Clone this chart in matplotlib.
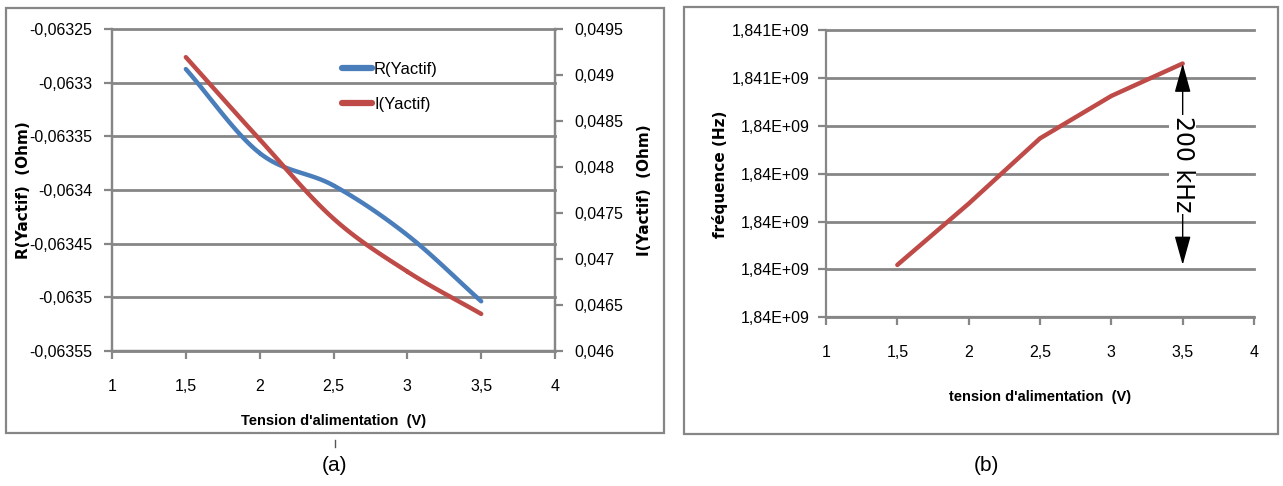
import numpy as np
import matplotlib.pyplot as plt
from matplotlib.patches import Rectangle
from matplotlib.lines import Line2D
from matplotlib.ticker import FuncFormatter

# data
tension = [1.5, 2.0, 2.5, 3.0, 3.5]
r_yactif = [-0.0632873, -0.0633656, -0.0633958, -0.063442, -0.0635037]
i_yactif = [0.049194, 0.0483, 0.047439, 0.046863, 0.046403]
frequence = [1.8403047e9, 1.8403688e9, 1.8404371e9, 1.8404815e9, 1.8405154e9]

x_ticks = [1, 1.5, 2, 2.5, 3, 3.5, 4]
r_ticks = np.linspace(-0.06355, -0.06325, 7)
i_ticks = np.linspace(0.046, 0.0495, 8)
f_ticks = np.linspace(1.84025e9, 1.84055e9, 7)

BLUE = '#4A7EBB'
RED = '#BE4B48'
GRAY = '#868686'
SANS = 'Liberation Sans'


def smooth(x, y, n=30):
    # Catmull-Rom curve through the points (like Excel "smoothed line")
    x = np.asarray(x, float)
    y = np.asarray(y, float)
    px = np.concatenate([[2 * x[0] - x[1]], x, [2 * x[-1] - x[-2]]])
    py = np.concatenate([[2 * y[0] - y[1]], y, [2 * y[-1] - y[-2]]])
    xs, ys = [], []
    t = np.linspace(0, 1, n)
    for i in range(1, len(px) - 2):
        for p, out in ((px, xs), (py, ys)):
            p0, p1, p2, p3 = p[i - 1], p[i], p[i + 1], p[i + 2]
            out.extend(0.5 * (2 * p1 + (-p0 + p2) * t
                              + (2 * p0 - 5 * p1 + 4 * p2 - p3) * t ** 2
                              + (-p0 + 3 * p1 - 3 * p2 + p3) * t ** 3))
    return xs, ys


def comma(fmt):
    return FuncFormatter(lambda v, pos: (fmt % v).rstrip('0').rstrip('.').replace('.', ','))


def freq_fmt(v, pos):
    m = int(v / 1e6 + 0.5) / 1e3
    return ('%.3f' % m).rstrip('0').rstrip('.').replace('.', ',') + 'E+09'


def style(ax):
    for s in ax.spines.values():
        s.set_color(GRAY)
        s.set_linewidth(1.6)
    ax.tick_params(colors=GRAY, width=1.6, length=6, labelcolor='black', labelsize=11.5)
    for lab in ax.get_xticklabels() + ax.get_yticklabels():
        lab.set_family(SANS)


fig = plt.figure(figsize=(12.83, 4.86), dpi=100)

# frames around each chart
fig.add_artist(Rectangle((0.0047, 0.109), 0.5129, 0.8745, transform=fig.transFigure,
                         fill=False, edgecolor=GRAY, lw=1.6))
fig.add_artist(Rectangle((0.5331, 0.107), 0.463, 0.8786, transform=fig.transFigure,
                         fill=False, edgecolor=GRAY, lw=1.6))

# (a)
ax = fig.add_axes([0.0873, 0.2778, 0.3453, 0.6625])
ax2 = ax.twinx()
xs, ys = smooth(tension, r_yactif)
ax.plot(xs, ys, color=BLUE, lw=3.2, solid_capstyle='round')
xs, ys = smooth(tension, i_yactif)
ax2.plot(xs, ys, color=RED, lw=3.2, solid_capstyle='round')

ax.set_xlim(1, 4)
ax.set_xticks(x_ticks)
ax.xaxis.set_major_formatter(comma('%.1f'))
ax.set_ylim(r_ticks[0], r_ticks[-1])
ax.set_yticks(r_ticks)
ax.yaxis.set_major_formatter(comma('%.5f'))
ax2.set_ylim(i_ticks[0], i_ticks[-1])
ax2.set_yticks(i_ticks)
ax2.yaxis.set_major_formatter(comma('%.4f'))
ax.grid(axis='y', color=GRAY, lw=2)
for g in ax.get_ygridlines():
    g.set_clip_on(False)
ax.tick_params(axis='x', pad=14)
ax.tick_params(axis='y', pad=8)
ax2.tick_params(axis='y', pad=8)
style(ax)
style(ax2)
ax.spines['top'].set_visible(False)
ax2.spines['top'].set_visible(False)

ax.set_xlabel("Tension d'alimentation  (V)", family=SANS, fontweight='bold',
              fontsize=10.5)
ax.xaxis.set_label_coords(0.5, -0.197)
ax.set_ylabel('R(Yactif)  (Ohm)', fontweight='bold', fontsize=11)
ax.yaxis.set_label_coords(-0.183, 0.5)
ax2.set_ylabel('I(Yactif)  (Ohm)', fontweight='bold', fontsize=11, rotation=90)
ax2.yaxis.set_label_coords(1.185, 0.5)

handles = [Line2D([], [], color=BLUE, lw=4.5, solid_capstyle='round'),
           Line2D([], [], color=RED, lw=4.5, solid_capstyle='round')]
ax2.legend(handles, ['R(Yactif)', 'I(Yactif)'], loc='upper left',
           bbox_to_anchor=(0.505, 0.918), frameon=False, handlelength=1.75,
           handletextpad=0.15, labelspacing=1.2, borderaxespad=0,
           prop={'family': SANS, 'size': 12})

# (b)
bx = fig.add_axes([0.6438, 0.3473, 0.3336, 0.59])
bx.plot(tension, frequence, color=RED, lw=3.2, solid_capstyle='round')
bx.set_xlim(1, 4)
bx.set_xticks(x_ticks)
bx.xaxis.set_major_formatter(comma('%.1f'))
bx.set_ylim(f_ticks[0], f_ticks[-1])
bx.set_yticks(f_ticks)
bx.yaxis.set_major_formatter(FuncFormatter(freq_fmt))
bx.grid(axis='y', color=GRAY, lw=2)
for g in bx.get_ygridlines():
    g.set_clip_on(False)
bx.tick_params(axis='x', pad=14)
bx.tick_params(axis='y', pad=6)
style(bx)
bx.spines['top'].set_visible(False)
bx.spines['right'].set_visible(False)
bx.set_xlabel("tension d'alimentation  (V)", family=SANS, fontweight='bold',
              fontsize=10.5)
bx.xaxis.set_label_coords(0.5, -0.255)
bx.set_ylabel('fréquence (Hz)', fontweight='bold', fontsize=11)
bx.yaxis.set_label_coords(-0.228, 0.5)

bx.annotate('', xy=(tension[-1], frequence[-1]), xytext=(tension[-1], frequence[0]),
            arrowprops=dict(arrowstyle='<|-|>,head_length=0.9,head_width=0.25',
                            color='black', lw=1, mutation_scale=20,
                            shrinkA=0, shrinkB=0))
bx.text(tension[-1], (frequence[0] + frequence[-1]) / 2, '200 kHz', rotation=-90,
        ha='center', va='center', fontsize=17,
        bbox=dict(facecolor='white', edgecolor='none', pad=1))

fig.text(0.261, 0.03, '(a)', ha='center', fontsize=15, family=SANS)
fig.text(0.769, 0.03, '(b)', ha='center', fontsize=15, family=SANS)
fig.add_artist(Line2D([0.261, 0.261], [0.081, 0.094], transform=fig.transFigure,
                      color='#555555', lw=1))

fig.savefig('out.png', dpi=100)
